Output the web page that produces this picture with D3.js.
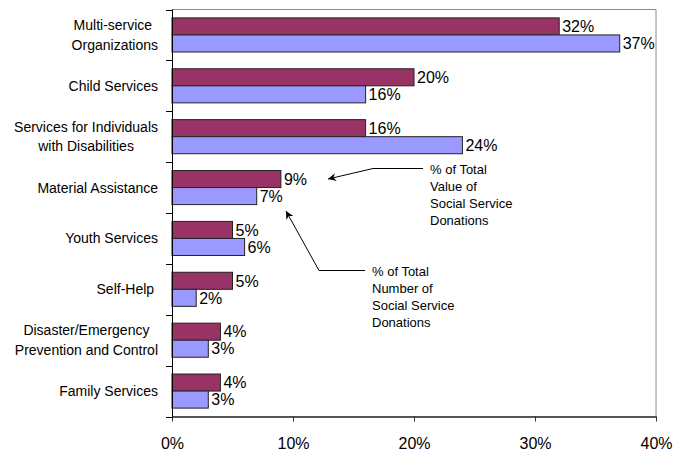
<!DOCTYPE html>
<html>
<head>
<meta charset="utf-8">
<script src="https://cdn.jsdelivr.net/npm/d3@7"></script>
<style>
  html, body { margin: 0; padding: 0; background: #fff; }
  svg { display: block; font-family: "Liberation Sans", Arial, sans-serif; }
</style>
</head>
<body>
<svg id="chart" width="689" height="454"></svg>
<script>
// Social service donations by category (percent shares)
const categories = [
  ["Multi-service ", "Organizations"],
  ["Child Services"],
  ["Services for Individuals", "with Disabilities"],
  ["Material Assistance"],
  ["Youth Services"],
  ["Self-Help "],
  ["Disaster/Emergency", "Prevention and Control"],
  ["Family Services"]
];
const valueShare  = [32, 20, 16, 9, 5, 5, 4, 4];   // % of total value
const numberShare = [37, 16, 24, 7, 6, 2, 3, 3];   // % of total number
const xTicks = [0, 10, 20, 30, 40];
const seriesNames = ["value", "number"];

const svg = d3.select("#chart");
const plotLeft = 172, plotRight = 656, plotTop = 9.5, plotBottom = 416.5;

const keys = categories.map((c, i) => i);
const x = d3.scaleLinear().domain([0, 40]).range([plotLeft, plotRight]);
const y = d3.scaleBand().domain(keys).range([plotTop, plotBottom])
  .paddingInner(0.33).paddingOuter(0.165);
const ySub = d3.scaleBand().domain(seriesNames).range([0, y.bandwidth()]);
const colors = { value: "#993366", number: "#9999FF" };

// plot frame (top and right edges)
svg.append("path")
  .attr("d", `M${plotLeft},${plotTop}H${plotRight}V${plotBottom}`)
  .attr("fill", "none").attr("stroke", "#8c8c8c").attr("stroke-width", 1);

// bars
const rows = keys.map(i => ({ i, value: valueShare[i], number: numberShare[i] }));
const g = svg.append("g");
rows.forEach(r => {
  seriesNames.forEach(s => {
    const yy = y(r.i) + ySub(s);
    g.append("rect")
      .attr("x", x(0))
      .attr("y", yy)
      .attr("width", x(r[s]) - x(0))
      .attr("height", ySub.bandwidth())
      .attr("fill", colors[s])
      .attr("stroke", "#222")
      .attr("stroke-width", 1);
    g.append("text")
      .attr("x", x(r[s]) + 3)
      .attr("y", yy + ySub.bandwidth() / 2)
      .attr("dy", "0.36em")
      .attr("font-size", 16)
      .attr("fill", "#000")
      .text(r[s] + "%");
  });
});

// x axis
const xAxis = d3.axisBottom(x).tickValues(xTicks).tickFormat(d => d + "%")
  .tickSize(5).tickSizeOuter(0).tickPadding(16);
const xg = svg.append("g").attr("transform", `translate(0,${plotBottom})`).call(xAxis);
xg.select(".domain").attr("stroke", "#555").attr("stroke-width", 2);
xg.selectAll(".tick line").attr("stroke", "#333").attr("stroke-width", 1);
xg.selectAll(".tick text").attr("font-size", 16).attr("fill", "#000")
  .attr("font-family", "Liberation Sans, Arial, sans-serif");

// y axis line with separator ticks between categories
const yg = svg.append("g");
yg.append("line").attr("x1", plotLeft + 0.5).attr("x2", plotLeft + 0.5)
  .attr("y1", plotTop).attr("y2", plotBottom + 2).attr("stroke", "#000");
const bounds = keys.map(i => y(i) - y.step() * y.paddingInner() / 2).concat([plotBottom]);
bounds[0] = plotTop;
yg.selectAll("line.sep").data(bounds).join("line").attr("class", "sep")
  .attr("x1", plotLeft - 6).attr("x2", plotLeft + 0.5)
  .attr("y1", d => Math.round(d) + 0.5).attr("y2", d => Math.round(d) + 0.5)
  .attr("stroke", "#000");

// category labels: centred lines, block right-aligned to the axis
const labelRight = 158, lineGap = 19.5;
categories.forEach((lines, i) => {
  const cy = y(i) + y.bandwidth() / 2;
  const t = svg.append("text")
    .attr("font-size", 14).attr("fill", "#000")
    .attr("text-anchor", "middle")
    .style("white-space", "pre");
  lines.forEach((ln, k) => {
    t.append("tspan")
      .attr("x", 0)
      .attr("y", cy + 5 + (k - (lines.length - 1) / 2) * lineGap)
      .text(ln);
  });
  let w = 0;
  t.selectAll("tspan").each(function () { w = Math.max(w, this.getComputedTextLength()); });
  t.attr("transform", `translate(${labelRight - w / 2},0)`);
});

// callouts
const defs = svg.append("defs");
defs.append("marker").attr("id", "arrow")
  .attr("viewBox", "0 0 10 10").attr("refX", 10).attr("refY", 5)
  .attr("markerWidth", 11).attr("markerHeight", 8).attr("markerUnits", "userSpaceOnUse")
  .attr("orient", "auto")
  .append("path").attr("d", "M0,0L10,5L0,10L3,5Z").attr("fill", "#000");

const callouts = [
  { lines: ["% of Total", "Value of", "Social Service", "Donations"],
    tx: 430, ty: 174, path: [[423, 168.5], [373, 168.5], [328, 179]] },
  { lines: ["% of Total", "Number of", "Social Service", "Donations"],
    tx: 372, ty: 276, path: [[365, 270.5], [319, 270.5], [286, 211]] }
];
callouts.forEach(c => {
  svg.append("path")
    .attr("d", d3.line()(c.path))
    .attr("fill", "none").attr("stroke", "#000").attr("stroke-width", 1)
    .attr("marker-end", "url(#arrow)");
  const t = svg.append("text").attr("font-size", 13).attr("fill", "#000");
  c.lines.forEach((ln, k) => {
    t.append("tspan").attr("x", c.tx).attr("y", c.ty + k * 17).text(ln);
  });
});
</script>
</body>
</html>
